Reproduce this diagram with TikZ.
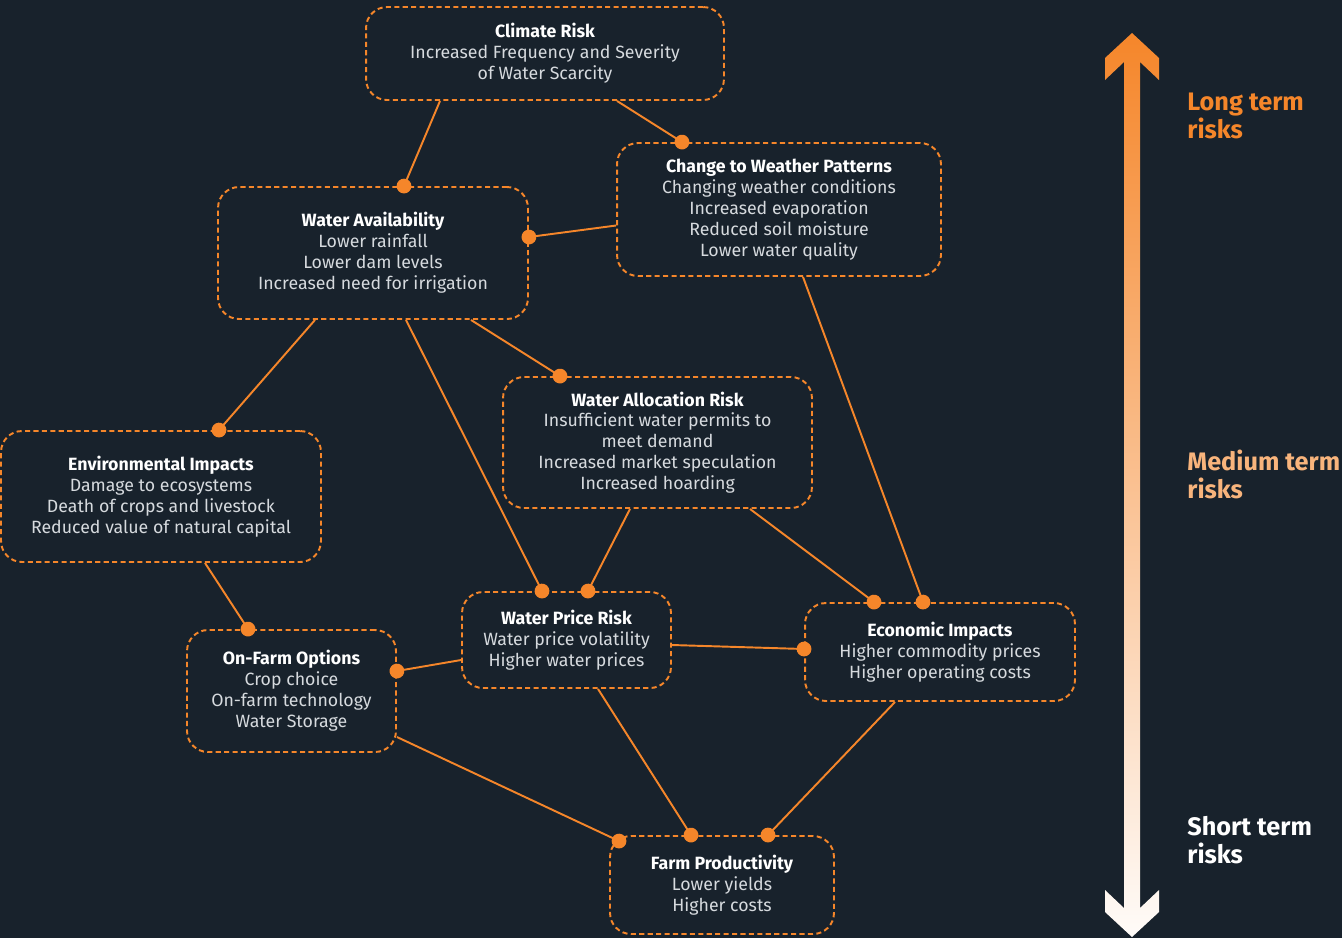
\documentclass[tikz,border=0pt]{standalone}
\usepackage{fontspec}
\setmainfont{Fira Sans}
\usepackage{xcolor}
\usetikzlibrary{calc,arrows.meta}
\definecolor{bg}{HTML}{18222C}
\definecolor{riskorange}{HTML}{F5862A}
\definecolor{medorange}{HTML}{F8B47C}
\definecolor{bodygray}{HTML}{D6DADE}
\newcommand{\ttl}[1]{{\bfseries\color{white}#1}}

\begin{document}
\begin{tikzpicture}[x=0.02cm,y=-0.02cm,
 riskbox/.style={draw=riskorange,line width=1.1pt,dash pattern=on 2.9pt off 1.9pt,rounded corners=0.42cm,
  text=bodygray,align=center,inner sep=0pt,font=\fontsize{10.1}{11.9}\selectfont},
 link/.style={riskorange,line width=1.1pt,-{Circle[length=8.4pt]},shorten >=-4.2pt},
 scale label/.style={anchor=west,align=left,inner sep=0pt,font=\fontsize{14.4}{15.9}\selectfont\bfseries}]
\useasboundingbox(0,0)rectangle(1342,938);
\fill[bg](0,0)rectangle(1342,938);
% risk boxes
\node[riskbox,minimum width=7.16cm,minimum height=1.86cm](clim)at(545,53.5){\ttl{Climate Risk}\\Increased Frequency and Severity\\of Water Scarcity};
\node[riskbox,minimum width=6.48cm,minimum height=2.66cm](weather)at(779,209.5){\ttl{Change to Weather Patterns}\\Changing weather conditions\\Increased evaporation\\Reduced soil moisture\\Lower water quality};
\node[riskbox,minimum width=6.2cm,minimum height=2.64cm](wavail)at(373,253){\ttl{Water Availability}\\Lower rainfall\\Lower dam levels\\Increased need for irrigation};
\node[riskbox,minimum width=6.18cm,minimum height=2.62cm](alloc)at(657.5,442.5){\ttl{Water Allocation Risk}\\Insufficient water permits to\\meet demand\\Increased market speculation\\Increased hoarding};
\node[riskbox,minimum width=6.4cm,minimum height=2.62cm](env)at(161,496.5){\ttl{Environmental Impacts}\\Damage to ecosystems\\Death of crops and livestock\\Reduced value of natural capital};
\node[riskbox,minimum width=4.18cm,minimum height=1.92cm](price)at(566.5,640){\ttl{Water Price Risk}\\Water price volatility\\Higher water prices};
\node[riskbox,minimum width=5.4cm,minimum height=1.96cm](econ)at(940,652){\ttl{Economic Impacts}\\Higher commodity prices\\Higher operating costs};
\node[riskbox,minimum width=4.18cm,minimum height=2.44cm](farmopt)at(291.5,691){\ttl{On-Farm Options}\\Crop choice\\On-farm technology\\Water Storage};
\node[riskbox,minimum width=4.48cm,minimum height=1.96cm](prod)at(722,885){\ttl{Farm Productivity}\\Lower yields\\Higher costs};
% links
\draw[link]($(clim.south)+(-105,0)$)--($(wavail.north)+(31,0)$);
\draw[link]($(clim.south)+(72,0)$)--($(weather.north)+(-97,0)$);
\draw[link]($(weather.west)+(0,16)$)--($(wavail.east)+(0,-16)$);
\draw[link]($(wavail.south)+(-58,0)$)--($(env.north)+(58,0)$);
\draw[link]($(wavail.south)+(33,0)$)--($(price.north)+(-24.5,0)$);
\draw[link]($(wavail.south)+(98,0)$)--($(alloc.north)+(-97.5,0)$);
\draw[link]($(alloc.south)+(-27.5,0)$)--($(price.north)+(21.5,0)$);
\draw[link]($(alloc.south)+(92.5,0)$)--($(econ.north)+(-66,0)$);
\draw[link]($(weather.south)+(24,0)$)--($(econ.north)+(-17,0)$);
\draw[link]($(env.south)+(44,0)$)--($(farmopt.north)+(-43.5,0)$);
\draw[link]($(price.west)+(0,20)$)--($(farmopt.east)+(0,-20)$);
\draw[link]($(price.east)+(0,5)$)--($(econ.west)+(0,-3)$);
\draw[link]($(farmopt.east)+(0,46)$)--($(prod.north west)+(10,6)$);
\draw[link]($(price.south)+(31.5,0)$)--($(prod.north)+(-31,0)$);
\draw[link]($(econ.south)+(-45,0)$)--($(prod.north)+(46,0)$);
% time scale
\shade[top color=riskorange,bottom color=white!97!riskorange](1124,62)--(1105,80)--(1105,58)--(1132,33)--(1159,58)--(1159,80)--(1140,62)
 --(1140,908)--(1159,890)--(1159,912)--(1132,937)--(1105,912)--(1105,890)--(1124,908)--cycle;
\node[scale label,text=riskorange](longt)at(1187,116){Long term\\risks};
\node[scale label,text=medorange](medt)at(1187,474){Medium term\\risks};
\node[scale label,text=white](shortt)at(1187,840){Short term\\risks};
\end{tikzpicture}
\end{document}
